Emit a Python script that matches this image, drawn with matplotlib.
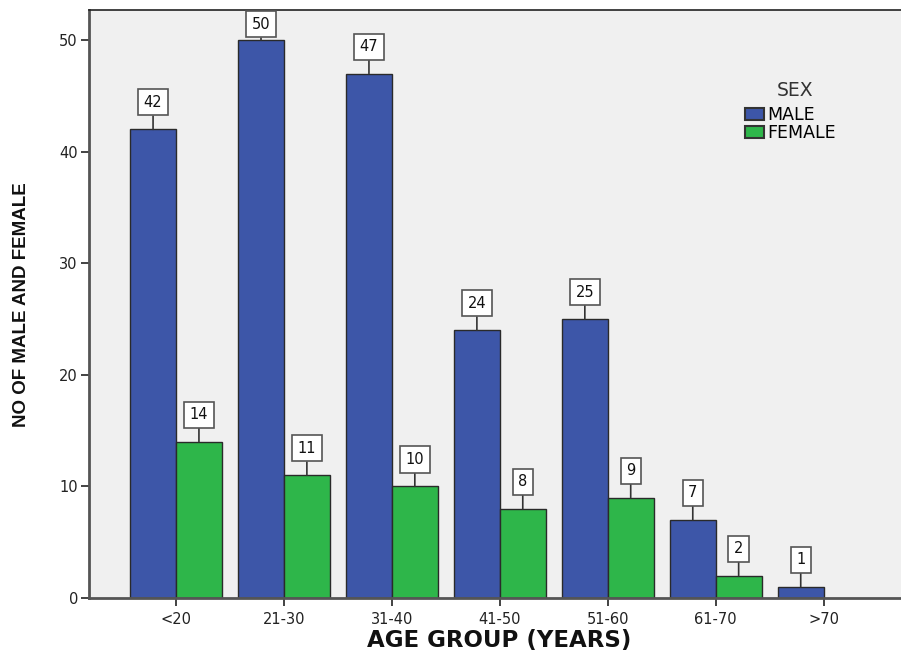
import matplotlib
matplotlib.use("Agg")
import matplotlib.pyplot as plt
import numpy as np

categories = ["<20", "21-30", "31-40", "41-50", "51-60", "61-70", ">70"]
tick_labels = ["<20", "21-30", "31-40", "41-50", "51-60", "61-70", ">70"]
male = [42, 50, 47, 24, 25, 7, 1]
female = [14, 11, 10, 8, 9, 2, 0]

plt.rcParams['font.family'] = ['DejaVu Sans']

fig = plt.figure(figsize=(9.01, 6.55), dpi=100)
ax = fig.add_axes([89/901, 1-598/655, 1-89/901 + 0.01, (598-10)/655])
ax.set_facecolor('#F0F0F0')

x = np.arange(len(categories))
w = 0.425
blue = '#3D56A8'
green = '#2EB64A'
edge = '#2a2a2a'
ymax = 52.7

ax.bar(x - w/2, male, width=w, color=blue, edgecolor=edge, linewidth=1.0, label='MALE', zorder=2)
fem_idx = [i for i, v in enumerate(female) if v > 0]
ax.bar(x[fem_idx] + w/2, [female[i] for i in fem_idx], width=w, color=green, edgecolor=edge,
       linewidth=1.0, label='FEMALE', zorder=2)

def label(xc, v):
    # shrink the leader when the box would run into the top of the frame
    off = 14 if v < ymax - 4 else 6
    ax.annotate(str(v), xy=(xc, v), xytext=(0, off), textcoords='offset points',
                ha='center', va='bottom', fontsize=10.5, color='#111111',
                bbox=dict(boxstyle='square,pad=0.38', fc='white', ec='#555555', lw=1.2),
                arrowprops=dict(arrowstyle='-', color='#333333', lw=1.2, shrinkA=0, shrinkB=0),
                zorder=4)

for i in range(len(categories)):
    label(x[i] - w/2, male[i])
    if female[i] > 0:
        label(x[i] + w/2, female[i])

ax.set_xlim(-0.806, 6.80)
ax.set_ylim(0, ymax)
ax.set_xticks(x)
ax.set_xticklabels(tick_labels, fontsize=10.5, color='#222222')
ax.set_yticks([0, 10, 20, 30, 40, 50])
ax.tick_params(axis='y', length=6, width=1.2, labelsize=10.5, colors='#222222', pad=2)
ax.tick_params(axis='x', length=6, width=1.2, colors='#222222', pad=4)

for s in ['left', 'bottom']:
    ax.spines[s].set_color('#555555')
    ax.spines[s].set_linewidth(2.0)
ax.spines['top'].set_color('#222222')
ax.spines['top'].set_linewidth(1.2)
ax.spines['right'].set_visible(False)

fig.text(499/901, 1-641/655, 'AGE GROUP (YEARS)', ha='center', va='center',
         fontsize=16.5, fontweight='bold', color='#111111')
fig.text(22/901, 1-305/655, 'NO OF MALE AND FEMALE', rotation=90, ha='center', va='center',
         fontsize=13.5, fontweight='bold', family=['Liberation Sans'],
         color='#111111')

fig.text(795/901, 1-90/655, 'SEX', ha='center', va='center', fontsize=13.5, color='#333333')
leg = ax.legend(loc='upper left', bbox_to_anchor=(745/901, 1-106/655),
                bbox_transform=fig.transFigure,
                frameon=False, fontsize=12.5, handlelength=1.1,
                handleheight=0.7, handletextpad=0.2, labelspacing=0.0, borderaxespad=0,
                borderpad=0)
for p in leg.get_patches():
    p.set_edgecolor('#333333')
    p.set_linewidth(1.5)

fig.savefig('out.png', dpi=100)
